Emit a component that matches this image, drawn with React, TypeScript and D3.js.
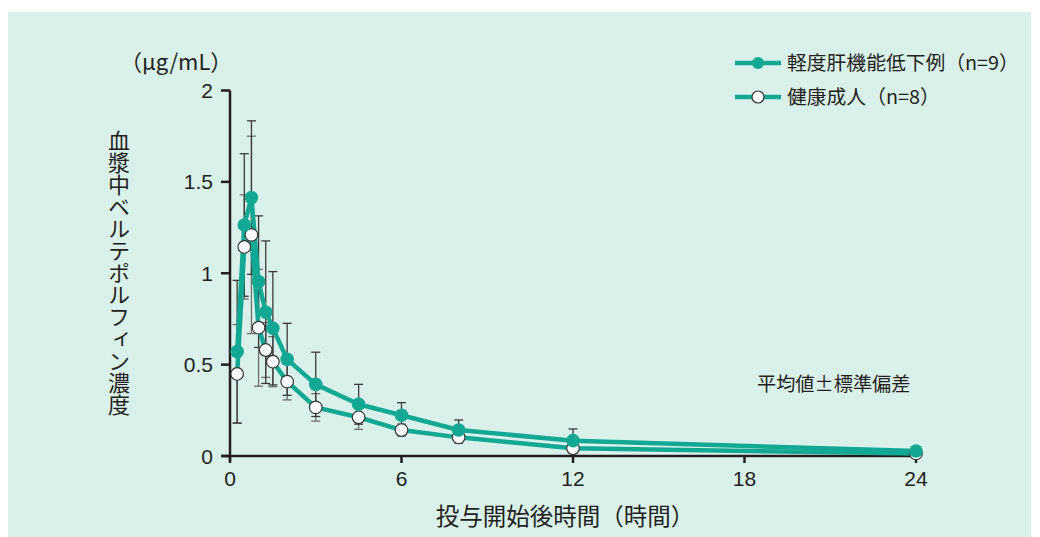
import React from "react";
import * as d3 from "d3";

const times = [0.25, 0.5, 0.75, 1, 1.25, 1.5, 2, 3, 4.5, 6, 8, 12, 24];
const hepaticMean = [0.571, 1.264, 1.414, 0.954, 0.787, 0.699, 0.529, 0.392, 0.283, 0.223, 0.142, 0.084, 0.027];
const hepaticSD = [0.39, 0.39, 0.42, 0.36, 0.39, 0.31, 0.197, 0.176, 0.109, 0.069, 0.055, 0.064, 0.01];
const healthyMean = [0.449, 1.144, 1.21, 0.702, 0.58, 0.516, 0.407, 0.266, 0.212, 0.142, 0.102, 0.042, 0.014];
const healthySD = [0.27, 0.285, 0.54, 0.32, 0.15, 0.137, 0.1, 0.075, 0.066, 0.033, 0.033, 0.024, 0.01];
const xTicks = [0, 6, 12, 18, 24];
const yTicks = [0, 0.5, 1, 1.5, 2];
const yTickLabels = ["0", "0.5", "1", "1.5", "2"];
const yTitle = "血漿中ベルテポルフィン濃度";
const xTitle = "投与開始後時間（時間）";
const unitLabel = "（μg/mL）";
const legendLabels = ["軽度肝機能低下例（n=9）", "健康成人（n=8）"];
const noteLabel = "平均値±標準偏差";

const TEAL = "#12a894";
const INK = "#231f20";
const JP = "'Noto Sans CJK JP', 'Noto Sans', sans-serif";
const NUM = "'Liberation Sans', Arial, sans-serif";

export default function App() {
  const x = d3.scaleLinear().domain([0, 24]).range([230, 916]);
  const y = d3.scaleLinear().domain([0, 2]).range([456, 90.5]);
  const line = d3
    .line<number>()
    .x((_, i) => x(times[i]))
    .y((d) => y(d));

  const errBars = (means: number[], sds: number[], color: string, key: string) =>
    means.map((m, i) => {
      const cx = x(times[i]);
      const top = y(m + sds[i]);
      const bot = y(Math.max(0, m - sds[i]));
      return (
        <g key={key + i} stroke={color} strokeWidth={1.3}>
          <line x1={cx} x2={cx} y1={top} y2={bot} />
          <line x1={cx - 4.5} x2={cx + 4.5} y1={top} y2={top} />
          <line x1={cx - 4.5} x2={cx + 4.5} y1={bot} y2={bot} />
        </g>
      );
    });

  return (
    <svg
      width={1040}
      height={537}
      style={{ position: "absolute", left: 0, top: 0 }}
      xmlns="http://www.w3.org/2000/svg"
    >
      <rect x={0} y={0} width={1040} height={537} fill="#ffffff" />
      <rect x={8} y={12} width={1023} height={525} fill="#daf0ea" />

      {/* error bars */}
      {errBars(healthyMean, healthySD, "#6d6d6d", "h")}
      {errBars(hepaticMean, hepaticSD, "#3a3a3a", "p")}

      {/* axes */}
      <g stroke={INK} strokeWidth={2.5} fill="none">
        <line x1={230} x2={230} y1={y(2)} y2={461} />
        <line x1={222} x2={916} y1={456} y2={456} />
        {yTicks.map((t) => (
          <line key={"yt" + t} x1={221} x2={230} y1={y(t)} y2={y(t)} />
        ))}
        {xTicks.map((t) => (
          <line key={"xt" + t} x1={x(t)} x2={x(t)} y1={456} y2={463} />
        ))}
      </g>
      {yTicks.map((t, i) => (
        <text
          key={"yl" + t}
          x={213}
          y={y(t) + 7.5}
          textAnchor="end"
          fontFamily={NUM}
          fontSize={21}
          fill={INK}
        >
          {yTickLabels[i]}
        </text>
      ))}
      {xTicks.map((t) => (
        <text
          key={"xl" + t}
          x={x(t)}
          y={486}
          textAnchor="middle"
          fontFamily={NUM}
          fontSize={21}
          fill={INK}
        >
          {t}
        </text>
      ))}

      {/* lines */}
      <path d={line(healthyMean) || ""} fill="none" stroke={TEAL} strokeWidth={4.5} strokeLinejoin="round" />
      <path d={line(hepaticMean) || ""} fill="none" stroke={TEAL} strokeWidth={4.5} strokeLinejoin="round" />
      {healthyMean.map((m, i) => (
        <circle key={"oc" + i} cx={x(times[i])} cy={y(m)} r={6.3} fill="#ffffff" stroke="#333" strokeWidth={1.2} />
      ))}
      {hepaticMean.map((m, i) => (
        <circle key={"fc" + i} cx={x(times[i])} cy={y(m)} r={6.8} fill={TEAL} />
      ))}

      {/* titles */}
      <text x={120} y={70} fontFamily={JP} fontSize={22} fill={INK}>
        {unitLabel}
      </text>
      <text
        x={119}
        y={130}
        fontFamily={JP}
        fontSize={22}
        fill={INK}
        style={{ writingMode: "vertical-rl" }}
      >
        {yTitle}
      </text>
      <text x={565} y={525} textAnchor="middle" fontFamily={JP} fontSize={23.5} fill={INK}>
        {xTitle}
      </text>
      <text x={757} y={391} fontFamily={JP} fontSize={19.2} fill={INK}>
        {noteLabel}
      </text>

      {/* legend */}
      <g>
        <line x1={735} x2={781} y1={63} y2={63} stroke={TEAL} strokeWidth={4.5} />
        <circle cx={758} cy={63} r={6} fill={TEAL} />
        <text x={787} y={70} fontFamily={JP} fontSize={19.8} fill={INK}>
          {legendLabels[0]}
        </text>
        <line x1={735} x2={781} y1={97} y2={97} stroke={TEAL} strokeWidth={4.5} />
        <circle cx={758} cy={97} r={6} fill="#ffffff" stroke="#333" strokeWidth={1.2} />
        <text x={787} y={104} fontFamily={JP} fontSize={19.8} fill={INK}>
          {legendLabels[1]}
        </text>
      </g>
    </svg>
  );
}
